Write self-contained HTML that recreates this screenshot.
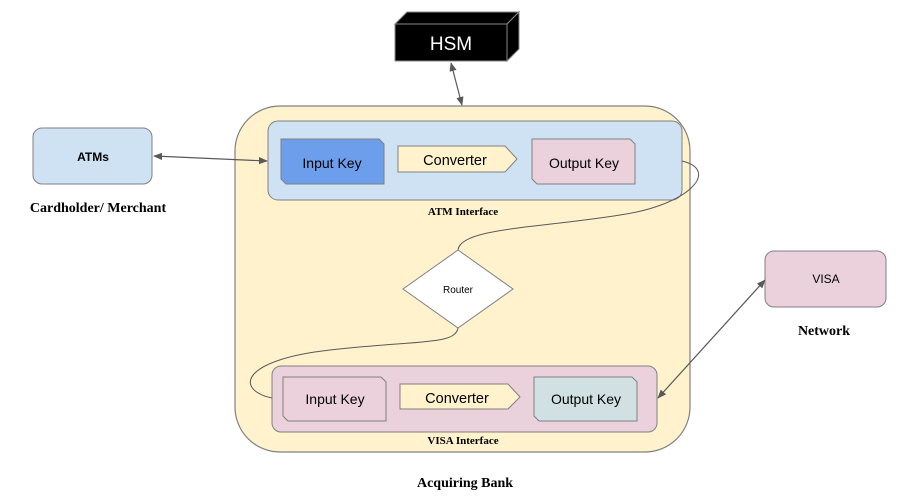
<!DOCTYPE html>
<html><head><meta charset="utf-8"><style>
html,body{margin:0;padding:0;background:#fff;width:913px;height:502px;overflow:hidden}
.s{font-family:"Liberation Sans",Arial,sans-serif}
.r{font-family:"Liberation Serif",serif;font-weight:bold}
</style></head><body>
<svg width="913" height="502" viewBox="0 0 913 502" xmlns="http://www.w3.org/2000/svg">
<defs>
<marker id="a" viewBox="0 0 10 10" refX="9" refY="5" markerWidth="9" markerHeight="9" orient="auto-start-reverse" markerUnits="userSpaceOnUse"><path d="M0,1 L10,5 L0,9 Z" fill="#595959"/></marker>
</defs>
<!-- HSM -->
<polygon points="395,24 407,12 519,12 507,24" fill="#000" stroke="#888"/>
<polygon points="507,24 519,12 519,49 507,61" fill="#000" stroke="#888"/>
<rect x="395" y="24" width="112" height="37" fill="#000" stroke="#888"/>
<text x="451" y="50" class="s" font-size="19" fill="#fff" text-anchor="middle">HSM</text>
<line x1="451" y1="63" x2="462" y2="105" stroke="#595959" stroke-width="1.2" marker-start="url(#a)" marker-end="url(#a)"/>
<!-- Bank -->
<rect x="235" y="106" width="455" height="346" rx="45" fill="#fff2cc" stroke="#808080" stroke-width="1.2"/>
<!-- ATM interface -->
<rect x="268" y="121" width="414" height="79" rx="10" fill="#cfe2f3" stroke="#808080"/>
<polygon points="281,139 379,139 384,144 384,184 286,184 281,179" fill="#6d9eeb" stroke="#808080"/>
<text x="332" y="168" class="s" font-size="14" text-anchor="middle">Input Key</text>
<polygon points="398,146 505,146 517,159 505,172 398,172" fill="#fff2cc" stroke="#808080"/>
<text x="455" y="165" class="s" font-size="14.5" text-anchor="middle">Converter</text>
<polygon points="532,139 630,139 635,144 635,184 537,184 532,179" fill="#ead1dc" stroke="#808080"/>
<text x="584" y="168" class="s" font-size="14" text-anchor="middle">Output Key</text>
<text x="463" y="215" class="r" font-size="11" text-anchor="middle">ATM Interface</text>
<!-- ATMs -->
<rect x="33" y="128" width="119" height="56" rx="9" fill="#cfe2f3" stroke="#808080"/>
<text x="93" y="161" class="s" font-size="12" font-weight="bold" text-anchor="middle">ATMs</text>
<text x="98" y="212" class="r" font-size="14" text-anchor="middle">Cardholder/ Merchant</text>
<line x1="154" y1="156" x2="267" y2="161" stroke="#595959" stroke-width="1.2" marker-start="url(#a)" marker-end="url(#a)"/>
<!-- curves -->
<path d="M682,161 C720,170 690,205 620,215 C540,228 460,228 458,250" fill="none" stroke="#595959" stroke-width="1"/>
<path d="M458,328 C455,345 420,340 330,350 C240,360 235,390 272,398" fill="none" stroke="#595959" stroke-width="1"/>
<!-- router -->
<polygon points="458,250 513,289 458,328 403,289" fill="#fff" stroke="#808080"/>
<text x="458" y="293" class="s" font-size="10" text-anchor="middle">Router</text>
<!-- VISA interface -->
<rect x="272" y="366" width="385" height="66" rx="9" fill="#ead1dc" stroke="#808080"/>
<polygon points="283,377 381,377 386,382 386,421 288,421 283,416" fill="#ead1dc" stroke="#808080"/>
<text x="335" y="404" class="s" font-size="14" text-anchor="middle">Input Key</text>
<polygon points="400,384 508,384 520,397 508,409 400,409" fill="#fff2cc" stroke="#808080"/>
<text x="457" y="403" class="s" font-size="14.5" text-anchor="middle">Converter</text>
<polygon points="534,377 632,377 637,382 637,421 539,421 534,416" fill="#d0e0e3" stroke="#808080"/>
<text x="586" y="404" class="s" font-size="14" text-anchor="middle">Output Key</text>
<text x="463" y="444" class="r" font-size="11" text-anchor="middle">VISA Interface</text>
<text x="465" y="487" class="r" font-size="14" text-anchor="middle">Acquiring Bank</text>
<!-- VISA -->
<rect x="765" y="251" width="121" height="56" rx="9" fill="#ead1dc" stroke="#808080"/>
<text x="826" y="283" class="s" font-size="12" text-anchor="middle">VISA</text>
<text x="824" y="335" class="r" font-size="14" text-anchor="middle">Network</text>
<line x1="658" y1="398" x2="765" y2="280" stroke="#595959" stroke-width="1.2" marker-start="url(#a)" marker-end="url(#a)"/>
</svg>
</body></html>
